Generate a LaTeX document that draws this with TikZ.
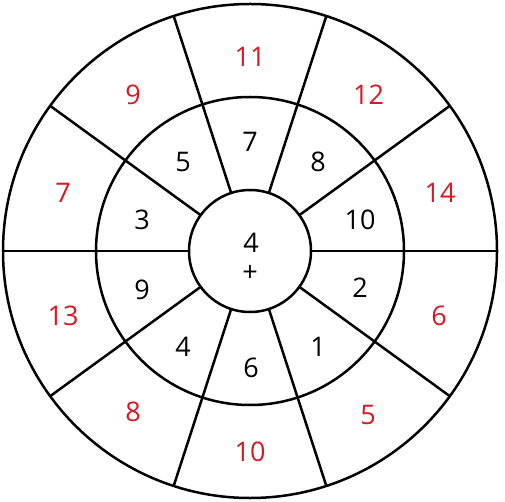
\documentclass[tikz,border=0pt]{standalone}
\usepackage{fontspec}
\setmainfont{Open Sans}
\definecolor{numred}{RGB}{215,25,35}
\begin{document}
\begin{tikzpicture}[x=1pt,y=-1pt,
  ring/.style={circle,draw,line width=2.5pt,inner sep=0pt,outer sep=0pt},
  spoke/.style={line width=2.5pt},
  innum/.style={font=\fontsize{27}{27}\selectfont,text=black,inner sep=0pt},
  outnum/.style={font=\fontsize{27}{27}\selectfont,text=numred,inner sep=0pt}]
\useasboundingbox (0,0) rectangle (505,502);
\node[ring,minimum size=494pt] (outer) at (250,251) {};
\node[ring,minimum size=308pt] (middle) at (250,251) {};
\node[ring,minimum size=122pt] (inner) at (250,251) {};
\foreach \a in {0,36,...,324} {
  \draw[spoke] (inner.\a) -- (outer.\a);
}
% center
\node[innum] (c4) at (251,242.5) {4};
\node[innum] (cplus) at (250,273) {+};
% inner ring
\node[innum] (i7) at (250,142) {7};
\node[innum] (i8) at (318,162) {8};
\node[innum] (i10) at (360,220) {10};
\node[innum] (i2) at (360,288) {2};
\node[innum] (i1) at (318,347) {1};
\node[innum] (i6) at (251,368) {6};
\node[innum] (i4) at (183,347) {4};
\node[innum] (i9) at (142,290) {9};
\node[innum] (i3) at (142,220) {3};
\node[innum] (i5) at (183,162) {5};
% outer ring
\node[outnum] (o11) at (250,57) {11};
\node[outnum] (o12) at (368.5,94.5) {12};
\node[outnum] (o14) at (440,193) {14};
\node[outnum] (o6) at (439,316) {6};
\node[outnum] (o5) at (368,415) {5};
\node[outnum] (o10) at (250,452) {10};
\node[outnum] (o8) at (133,412) {8};
\node[outnum] (o13) at (63,316) {13};
\node[outnum] (o7) at (63,193) {7};
\node[outnum] (o9) at (133,95) {9};
\end{tikzpicture}
\end{document}
